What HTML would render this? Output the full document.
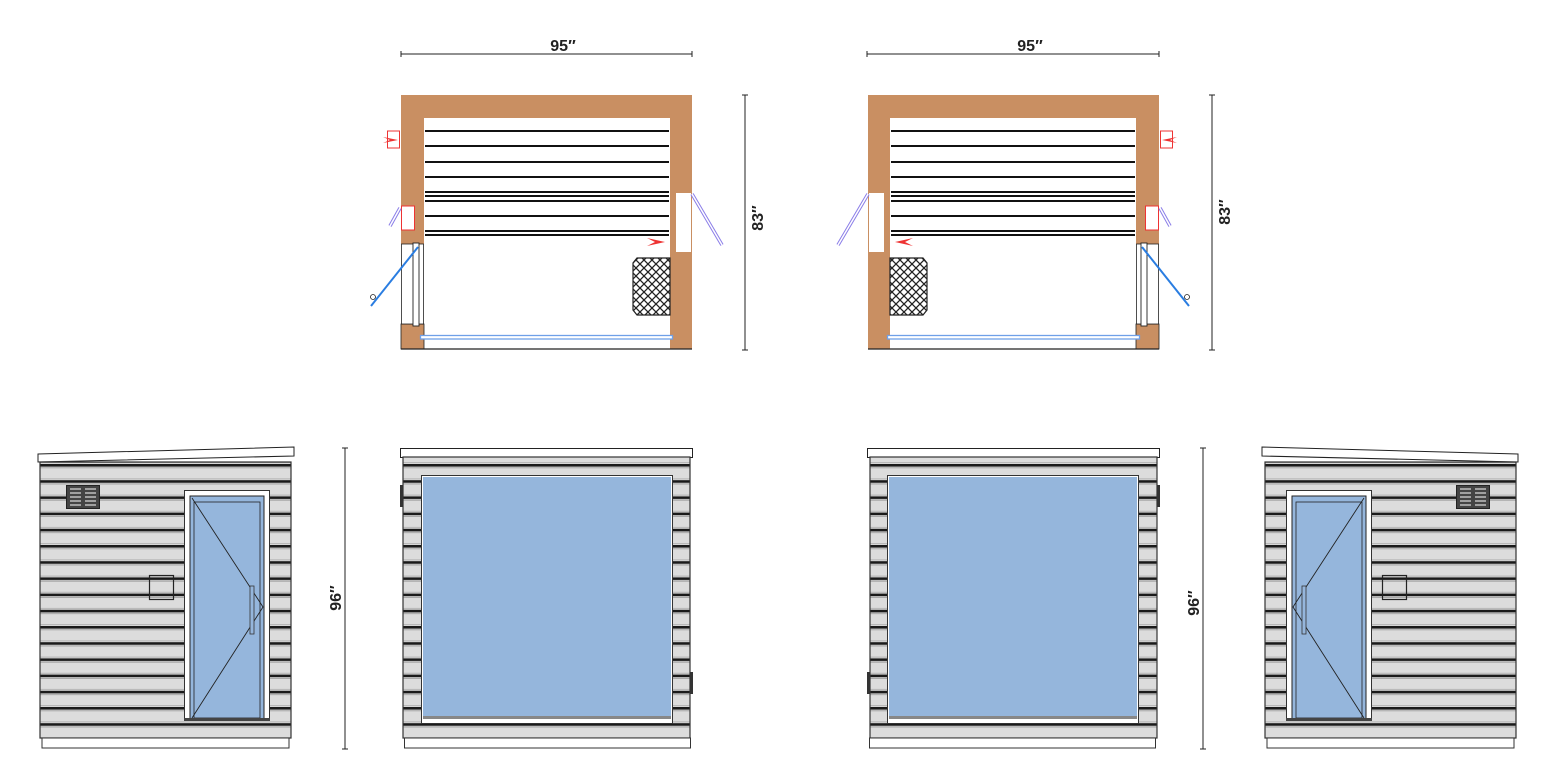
<!DOCTYPE html>
<html><head><meta charset="utf-8"><style>
html,body{margin:0;padding:0;background:#fff;width:1547px;height:775px;overflow:hidden}
svg{display:block}
text{font-family:"Liberation Sans",sans-serif;font-weight:bold;font-size:16px;fill:#222}
</style></head><body>
<svg width="1547" height="775" viewBox="0 0 1547 775" xmlns="http://www.w3.org/2000/svg">
<defs>
<pattern id="sid" width="40" height="16.2" patternUnits="userSpaceOnUse" patternTransform="translate(0,464)">
<rect width="40" height="16.2" fill="#dcdcdc"/>
<rect y="0" width="40" height="2.6" fill="#1a1a1a"/>
<rect y="3.4" width="40" height="0.8" fill="#999"/>
<rect y="14.5" width="40" height="0.8" fill="#aaa"/>
</pattern>
<pattern id="hatch" width="8" height="8" patternUnits="userSpaceOnUse">
<rect width="8" height="8" fill="#fff"/>
<path d="M0,0L8,8M8,0L0,8" stroke="#222" stroke-width="1.3"/>
</pattern>
<g id="plan">
<rect x="401" y="95" width="291" height="23" fill="#C98F62"/>
<rect x="401" y="95" width="23" height="149" fill="#C98F62"/>
<rect x="670" y="95" width="22" height="254" fill="#C98F62"/>
<rect x="401" y="324" width="23" height="25" fill="#C98F62" stroke="#222" stroke-width="0.8"/>
<line x1="401" y1="349" x2="692" y2="349" stroke="#222" stroke-width="1.3"/>
<rect x="401.5" y="244" width="22" height="80" fill="#fff" stroke="#222" stroke-width="0.8"/>
<rect x="413" y="243" width="6" height="83" fill="#fff" stroke="#222" stroke-width="0.9"/>
<line x1="418" y1="247" x2="371" y2="306" stroke="#2a7de1" stroke-width="2"/>
<circle cx="373" cy="297" r="2.5" fill="#fff" stroke="#222" stroke-width="0.8"/>
<g stroke="#111" stroke-width="2">
<line x1="425" y1="131" x2="669" y2="131"/><line x1="425" y1="146" x2="669" y2="146"/>
<line x1="425" y1="162" x2="669" y2="162"/><line x1="425" y1="177" x2="669" y2="177"/>
<line x1="425" y1="192" x2="669" y2="192"/><line x1="425" y1="196" x2="669" y2="196"/>
<line x1="425" y1="201" x2="669" y2="201"/><line x1="425" y1="216" x2="669" y2="216"/>
<line x1="425" y1="231" x2="669" y2="231"/><line x1="425" y1="235" x2="669" y2="235"/>
</g>
<rect x="387.5" y="131" width="12" height="17" fill="none" stroke="#e33" stroke-width="1"/>
<path d="M383,137 L398,140 L383,143 L390,140Z" fill="#e33"/>
<rect x="401.5" y="206" width="13" height="24" fill="#fff" stroke="#e33" stroke-width="1"/>
<path d="M400,208 L390,226" stroke="#8a7de8" stroke-width="3.5"/><path d="M400,208 L390,226" stroke="#fff" stroke-width="1.5"/>
<rect x="676" y="193" width="15" height="59" fill="#fff"/>
<path d="M692,194 L722,245" stroke="#8a7de8" stroke-width="3.5"/><path d="M692,194 L722,245" stroke="#fff" stroke-width="1.5"/>
<path d="M647,238 L665,242 L647,246 L655,242Z" fill="#e33"/>
<path d="M637,258 L670,258 L670,315 L637,315 L633,310 L633,263Z" fill="url(#hatch)" stroke="#222" stroke-width="1.2"/>
<rect x="420.5" y="335.5" width="252" height="3.5" fill="#fff" stroke="#6fa0e8" stroke-width="1.3"/>
</g>
<g id="side">
<path d="M38,454 L294,447 L294,456 L38,462Z" fill="#fff" stroke="#222" stroke-width="1"/>
<rect x="40" y="462" width="251" height="276" fill="url(#sid)" stroke="#333" stroke-width="1.2"/>
<rect x="42" y="738" width="247" height="10" fill="#fff" stroke="#333" stroke-width="1"/>
<rect x="66.5" y="485.5" width="33" height="23" fill="#444" stroke="#222"/>
<g stroke="#ddd" stroke-width="1.2"><line x1="70" y1="489" x2="81" y2="489"/><line x1="70" y1="493" x2="81" y2="493"/><line x1="70" y1="497" x2="81" y2="497"/><line x1="70" y1="501" x2="81" y2="501"/><line x1="70" y1="505" x2="81" y2="505"/><line x1="85" y1="489" x2="96" y2="489"/><line x1="85" y1="493" x2="96" y2="493"/><line x1="85" y1="497" x2="96" y2="497"/><line x1="85" y1="501" x2="96" y2="501"/><line x1="85" y1="505" x2="96" y2="505"/></g>
<rect x="149.5" y="575.5" width="24" height="24" fill="none" stroke="#222" stroke-width="1.2"/>
<rect x="184.5" y="490.5" width="85" height="230" fill="#fff" stroke="#333" stroke-width="1"/>
<rect x="190" y="496" width="74" height="223" fill="#95b6dc" stroke="#222" stroke-width="1"/>
<rect x="194" y="502" width="66" height="216" fill="none" stroke="#222" stroke-width="0.8"/>
<path d="M192,498 L263,607 L192,718" fill="none" stroke="#222" stroke-width="0.9"/>
<rect x="250" y="586" width="4" height="48" fill="#95b6dc" stroke="#333" stroke-width="0.8"/>
<rect x="184" y="718" width="86" height="3" fill="#444"/>
</g>
<g id="front">
<rect x="400.5" y="448.5" width="292" height="9" fill="#fff" stroke="#222" stroke-width="1"/>
<rect x="403" y="457" width="287" height="281" fill="url(#sid)" stroke="#333" stroke-width="1.2"/>
<rect x="404.5" y="738" width="286" height="10" fill="#fff" stroke="#333" stroke-width="1"/>
<rect x="421.5" y="475.5" width="251" height="248" fill="#fff" stroke="#333" stroke-width="1"/>
<rect x="423" y="477" width="248" height="241" fill="#95b6dc"/>
<rect x="423" y="716" width="248" height="3" fill="#888"/>
<rect x="400" y="485" width="3" height="22" fill="#333"/>
<rect x="690" y="672" width="3" height="22" fill="#333"/>
</g>
</defs>
<use href="#plan"/>
<use href="#plan" transform="translate(1560,0) scale(-1,1)"/>
<use href="#side"/>
<use href="#side" transform="translate(1556,0) scale(-1,1)"/>
<use href="#front"/>
<use href="#front" transform="translate(1560,0) scale(-1,1)"/>
<g stroke="#222" stroke-width="1">
<line x1="401" y1="54" x2="692" y2="54"/><line x1="401" y1="51" x2="401" y2="57"/><line x1="692" y1="51" x2="692" y2="57"/>
<line x1="867" y1="54" x2="1159" y2="54"/><line x1="867" y1="51" x2="867" y2="57"/><line x1="1159" y1="51" x2="1159" y2="57"/>
<line x1="745" y1="95" x2="745" y2="350"/><line x1="742" y1="95" x2="748" y2="95"/><line x1="742" y1="350" x2="748" y2="350"/>
<line x1="1212" y1="95" x2="1212" y2="350"/><line x1="1209" y1="95" x2="1215" y2="95"/><line x1="1209" y1="350" x2="1215" y2="350"/>
<line x1="345" y1="448" x2="345" y2="749"/><line x1="342" y1="448" x2="348" y2="448"/><line x1="342" y1="749" x2="348" y2="749"/>
<line x1="1203" y1="448" x2="1203" y2="749"/><line x1="1200" y1="448" x2="1206" y2="448"/><line x1="1200" y1="749" x2="1206" y2="749"/>
</g>
<text x="563" y="51" text-anchor="middle">95″</text>
<text x="1030" y="51" text-anchor="middle">95″</text>
<text transform="translate(763,218) rotate(-90)" text-anchor="middle">83″</text>
<text transform="translate(1230,212) rotate(-90)" text-anchor="middle">83″</text>
<text transform="translate(341,598) rotate(-90)" text-anchor="middle">96″</text>
<text transform="translate(1199,603) rotate(-90)" text-anchor="middle">96″</text>
</svg>
</body></html>
